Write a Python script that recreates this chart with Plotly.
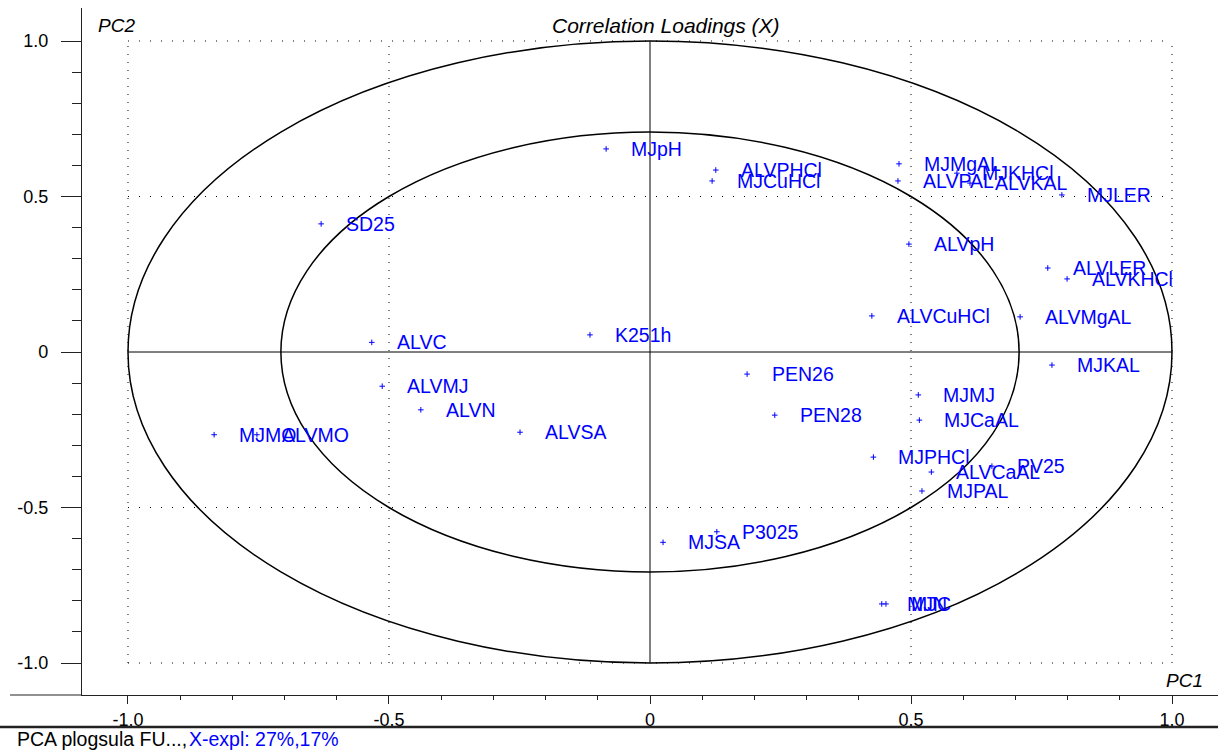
import math
import plotly.graph_objects as go

# Correlation loadings of the X variables on the first two principal components
variables = [
    "MJpH", "ALVPHCl", "MJCuHCl", "MJMgAL", "ALVPAL", "MJKHCl", "ALVKAL", "MJLER",
    "ALVpH", "ALVLER", "ALVKHCl", "SD25", "K251h", "ALVC", "ALVCuHCl", "ALVMgAL",
    "MJKAL", "PEN26", "ALVMJ", "ALVN", "MJMJ", "PEN28", "MJCaAL", "ALVSA",
    "MJMO", "ALVMO", "MJPHCl", "ALVCaAL", "PV25", "MJPAL", "P3025", "MJSA",
    "MJC", "MJN",
]
pc1 = [
    -0.084, 0.126, 0.119, 0.477, 0.475, 0.588, 0.613, 0.789,
    0.496, 0.762, 0.799, -0.630, -0.115, -0.533, 0.425, 0.709,
    0.770, 0.186, -0.513, -0.439, 0.514, 0.239, 0.516, -0.249,
    -0.835, -0.753, 0.428, 0.539, 0.655, 0.521, 0.128, 0.025,
    0.452, 0.444,
]
pc2 = [
    0.653, 0.585, 0.550, 0.605, 0.550, 0.575, 0.543, 0.505,
    0.347, 0.270, 0.235, 0.412, 0.055, 0.031, 0.116, 0.113,
    -0.042, -0.071, -0.110, -0.186, -0.138, -0.203, -0.219, -0.258,
    -0.266, -0.266, -0.338, -0.386, -0.367, -0.447, -0.578, -0.612,
    -0.810, -0.810,
]

x_tick_vals = [-1.0, -0.5, 0.0, 0.5, 1.0]
x_tick_text = ["-1.0", "-0.5", "0", "0.5", "1.0"]
y_tick_vals = [1.0, 0.5, 0.0, -0.5, -1.0]
y_tick_text = ["1.0", "0.5", "0", "-0.5", "-1.0"]

title_text = "Correlation Loadings (X)"
x_axis_name = "PC1"
y_axis_name = "PC2"
footer_name = "PCA plogsula FU...,"
footer_expl = "X-expl: 27%,17%"

BLUE = "#0000ff"
FONT = "Arial, Liberation Sans, sans-serif"
W, H = 1218, 751
ML, MR, MT, MB = 82, 0, 8, 56
PW, PH = W - ML - MR, H - MT - MB

fig = go.Figure()
fig.add_trace(go.Scatter(
    x=pc1, y=pc2, mode="markers", text=variables, hoverinfo="text",
    marker=dict(symbol="cross-thin", size=4, color=BLUE, line=dict(width=1, color=BLUE)),
    showlegend=False,
))

annotations = []
for name, x, y in zip(variables, pc1, pc2):
    annotations.append(dict(
        x=x, y=y, xref="x", yref="y", text=name, showarrow=False,
        xanchor="left", yanchor="middle", xshift=23, yshift=0,
        font=dict(family=FONT, size=19.5, color=BLUE),
    ))


def px_x(p):
    return (p - ML) / PW


def px_y(p):
    return (H - MB - p) / PH


annotations += [
    dict(x=px_x(666), y=px_y(25), xref="paper", yref="paper", text="<i>" + title_text + "</i>",
         showarrow=False, xanchor="center", yanchor="middle",
         font=dict(family=FONT, size=21, color="black")),
    dict(x=px_x(96), y=px_y(25), xref="paper", yref="paper", text="<i>" + y_axis_name + "</i>",
         showarrow=False, xanchor="left", yanchor="middle",
         font=dict(family=FONT, size=19, color="black")),
    dict(x=px_x(1164), y=px_y(680), xref="paper", yref="paper", text="<i>" + x_axis_name + "</i>",
         showarrow=False, xanchor="left", yanchor="middle",
         font=dict(family=FONT, size=19, color="black")),
    dict(x=px_x(15), y=px_y(739), xref="paper", yref="paper", text=footer_name,
         showarrow=False, xanchor="left", yanchor="middle",
         font=dict(family=FONT, size=19.5, color="black")),
    dict(x=px_x(187), y=px_y(739), xref="paper", yref="paper", text=footer_expl,
         showarrow=False, xanchor="left", yanchor="middle",
         font=dict(family=FONT, size=19.5, color=BLUE)),
]

shapes = []
# dotted reference grid at +/-0.5 and +/-1
for v in [-1.0, -0.5, 0.5, 1.0]:
    shapes.append(dict(type="line", xref="x", yref="y", x0=v, x1=v, y0=-1, y1=1,
                       line=dict(color="black", width=1, dash="1px,7px")))
    shapes.append(dict(type="line", xref="x", yref="y", x0=-1, x1=1, y0=v, y1=v,
                       line=dict(color="black", width=1, dash="1px,10px")))
# axes cross through the origin
shapes.append(dict(type="line", xref="x", yref="y", x0=-1, x1=1, y0=0, y1=0,
                   line=dict(color="black", width=1)))
shapes.append(dict(type="line", xref="x", yref="y", x0=0, x1=0, y0=-1, y1=1,
                   line=dict(color="black", width=1)))
# 100% and 50% explained-variance circles
for r in [1.0, math.sqrt(0.5)]:
    shapes.append(dict(type="circle", xref="x", yref="y", x0=-r, x1=r, y0=-r, y1=r,
                       line=dict(color="black", width=1.5)))
# axis baseline extension and footer separator
shapes.append(dict(type="line", xref="paper", yref="paper", x0=px_x(10), x1=0, y0=0, y1=0,
                   line=dict(color="#222222", width=1.2)))
shapes.append(dict(type="line", xref="paper", yref="paper", x0=px_x(0), x1=1,
                   y0=px_y(727), y1=px_y(727), line=dict(color="#222222", width=2.5)))

minor_vals = [round(i * 0.1, 1) for i in range(-10, 11)]

fig.update_layout(
    width=W, height=H,
    margin=dict(l=ML, r=MR, t=MT, b=MB, pad=0),
    paper_bgcolor="white", plot_bgcolor="white",
    font=dict(family=FONT, size=18, color="black"),
    annotations=annotations, shapes=shapes,
    hovermode="closest",
    xaxis=dict(
        range=[-1.0881, 1.0881], showgrid=False, zeroline=False,
        showline=True, linecolor="#222222", linewidth=1.2,
        ticks="outside", ticklen=8, tickwidth=1.2, tickcolor="#222222",
        tickvals=x_tick_vals, ticktext=x_tick_text,
        tickfont=dict(family=FONT, size=18, color="black"),
        minor=dict(tickvals=minor_vals, ticks="outside", ticklen=4, tickwidth=1, tickcolor="#222222",
                   showgrid=False),
    ),
    yaxis=dict(
        range=[-1.1029, 1.1061], showgrid=False, zeroline=False,
        showline=True, linecolor="#222222", linewidth=1.2,
        ticks="outside", ticklen=20, tickwidth=1.2, tickcolor="#222222",
        tickvals=y_tick_vals, ticktext=y_tick_text, ticklabelstandoff=9,
        tickfont=dict(family=FONT, size=18, color="black"),
        minor=dict(tickvals=minor_vals, ticks="outside", ticklen=9, tickwidth=1, tickcolor="#222222",
                   showgrid=False),
    ),
)

fig.write_html("out.html")
